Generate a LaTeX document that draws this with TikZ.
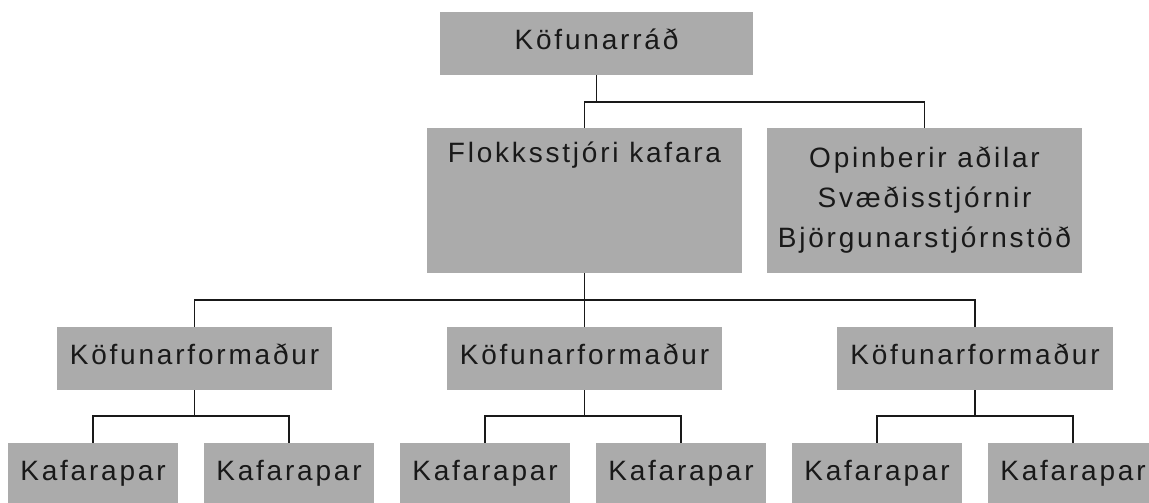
\documentclass[tikz,border=0pt]{standalone}
\usepackage{fontspec}
\newfontfamily\boxfont{Liberation Sans}[LetterSpace=10]
\begin{document}
\begin{tikzpicture}[x=1pt,y=-1pt,
  box/.style={fill=black!33, draw=none, inner sep=0pt, text=black!90,
    font={\boxfont\fontsize{28}{40}\selectfont}},
  line1/.style={box, text height=20pt, text depth=8pt},
  conn/.style={draw=black!90, line width=1.6pt}]
\useasboundingbox (0,0) rectangle (1149,503);
% boxes
\node[line1, minimum width=313pt, minimum height=63pt] (top) at (596.5,43.5) {Köfunarráð};
\node[box, minimum width=315pt, minimum height=145pt] (flokk) at (584.5,200.5) {};
\node[box, fill=none, anchor=base] (flokkt) at (584.5,162) {Flokksstjóri kafara};
\node[box, minimum width=315pt, minimum height=145pt, align=center] (opin) at (924.5,200.5)
  {Opinberir aðilar\\Svæðisstjórnir\\Björgunarstjórnstöð};
\node[line1, minimum width=275pt, minimum height=63pt] (kf1) at (194.5,358.5) {Köfunarformaður};
\node[line1, minimum width=275pt, minimum height=63pt] (kf2) at (584.5,358.5) {Köfunarformaður};
\node[line1, minimum width=276pt, minimum height=63pt] (kf3) at (975,358.5) {Köfunarformaður};
\node[line1, minimum width=170pt, minimum height=63pt] (kp1) at (93,474.5) {Kafarapar};
\node[line1, minimum width=170pt, minimum height=63pt] (kp2) at (289,474.5) {Kafarapar};
\node[line1, minimum width=170pt, minimum height=63pt] (kp3) at (485,474.5) {Kafarapar};
\node[line1, minimum width=170pt, minimum height=63pt] (kp4) at (681,474.5) {Kafarapar};
\node[line1, minimum width=170pt, minimum height=63pt] (kp5) at (877,474.5) {Kafarapar};
\node[line1, minimum width=170pt, minimum height=63pt] (kp6) at (1073,474.5) {Kafarapar};
% connectors
\draw[conn] (top.south) -- ++(0,27) coordinate (j1);
\draw[conn] (flokk.north) -- (flokk.north |- j1) -- (opin.north |- j1) -- (opin.north);
\draw[conn] (flokk.south) -- ++(0,27) coordinate (j2);
\draw[conn] (kf1.north) -- (kf1.north |- j2) -- (kf3.north |- j2) -- (kf3.north);
\draw[conn] (j2) -- (kf2.north);
\draw[conn] (kf1.south) -- ++(0,26) coordinate (j3);
\draw[conn] (kp1.north) -- (kp1.north |- j3) -- (kp2.north |- j3) -- (kp2.north);
\draw[conn] (kf2.south) -- ++(0,26) coordinate (j4);
\draw[conn] (kp3.north) -- (kp3.north |- j4) -- (kp4.north |- j4) -- (kp4.north);
\draw[conn] (kf3.south) -- ++(0,26) coordinate (j5);
\draw[conn] (kp5.north) -- (kp5.north |- j5) -- (kp6.north |- j5) -- (kp6.north);
\end{tikzpicture}
\end{document}
